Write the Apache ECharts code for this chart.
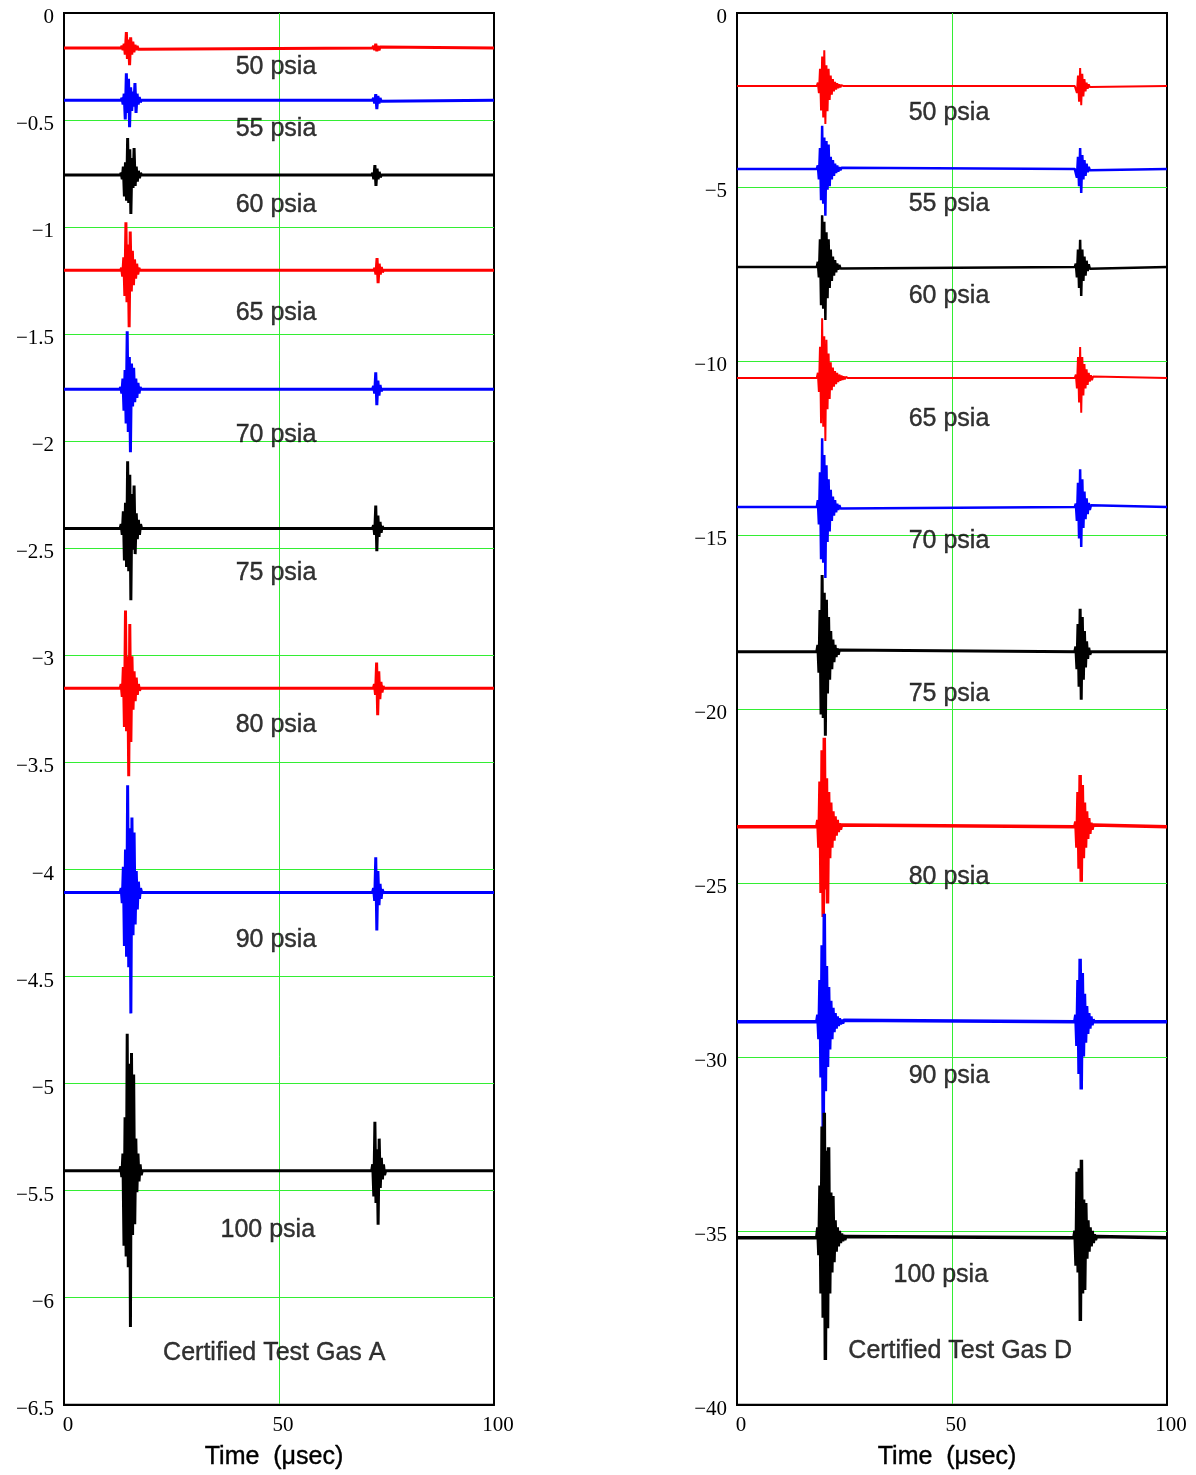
<!DOCTYPE html>
<html>
<head>
<meta charset="utf-8">
<title>Certified Test Gas A / D waveforms</title>
<script src="https://cdn.jsdelivr.net/npm/echarts@6/dist/echarts.min.js"></script>
<style>
  html, body { margin: 0; padding: 0; background: #ffffff; }
  #chart { width: 1196px; height: 1475px; }
</style>
</head>
<body>
<div id="chart"></div>
<script>
// ---- Recorded waveforms (time in µs, amplitude in volts offset per pressure) ----
const pressureLabels = ['50 psia', '55 psia', '60 psia', '65 psia', '70 psia', '75 psia', '80 psia', '90 psia', '100 psia'];
const sampleStep = 0.25; // µs between burst samples

const xTicks = [0, 50, 100];
const gasAYTicks = { min: -6.5, max: 0, step: 0.5 };
const gasDYTicks = { min: -40, max: 0, step: 5 };

// Gas A: resting level of each trace
const gasABaselines = [-0.164, -0.407, -0.757, -1.201, -1.757, -2.407, -3.154, -4.107, -5.407];
// Gas A: direct-path burst (start time, samples relative to resting level)
const gasAFirstStart = [13.5, 13.5, 13.3, 13.4, 13.2, 13.3, 13.3, 13.3, 13.2];
const gasAFirstBurst = [
  [0.01, -0.01, 0.02, -0.03, 0.075, -0.05, 0.04, -0.08, 0.05, -0.03, 0.03, -0.02, 0.015, -0.01, 0.01, -0.005],
  [0.01, -0.02, 0.03, -0.09, 0.126, -0.06, 0.10, -0.126, 0.06, -0.05, 0.04, -0.03, 0.08, -0.06, 0.03, -0.02, 0.015, -0.01],
  [0.01, -0.02, 0.04, -0.10, 0.06, -0.12, 0.173, -0.13, 0.12, -0.182, 0.08, -0.06, 0.126, -0.05, 0.04, -0.03, 0.02, -0.015, 0.01],
  [0.01, -0.03, 0.06, -0.12, 0.224, -0.15, 0.12, -0.266, 0.18, -0.10, 0.09, -0.07, 0.05, -0.04, 0.03, -0.02, 0.01],
  [0.01, -0.02, 0.05, -0.10, 0.09, -0.16, 0.271, -0.20, 0.15, -0.294, 0.12, -0.08, 0.10, -0.06, 0.05, -0.04, 0.03, -0.02, 0.01],
  [0.02, -0.03, 0.08, -0.15, 0.12, -0.18, 0.313, -0.20, 0.25, -0.336, 0.16, -0.10, 0.20, -0.12, 0.07, -0.05, 0.04, -0.03, 0.02],
  [0.02, -0.04, 0.10, -0.18, 0.364, -0.20, 0.15, -0.411, 0.30, -0.25, 0.15, -0.10, 0.08, -0.06, 0.05, -0.03, 0.02, -0.01],
  [0.02, -0.05, 0.12, -0.25, 0.20, -0.30, 0.50, -0.35, 0.30, -0.565, 0.35, -0.20, 0.28, -0.15, 0.10, -0.08, 0.05, -0.03, 0.02],
  [0.02, -0.03, 0.08, -0.35, 0.25, -0.40, 0.64, -0.45, 0.50, -0.73, 0.55, -0.30, 0.45, -0.25, 0.15, -0.10, 0.08, -0.05, 0.03, -0.02]
];
// Gas A: reflected burst
const gasASecondStart = [72.0, 72.0, 71.8, 72.3, 72.0, 72.0, 72.2, 72.0, 71.8];
const gasASecondBurst = [
  [0.01, -0.01, 0.02, -0.015, 0.01, -0.01, 0.005],
  [0.01, -0.015, 0.028, -0.042, 0.02, -0.015, 0.01, -0.005],
  [0.01, -0.02, 0.047, -0.051, 0.03, -0.02, 0.015, -0.01],
  [0.01, -0.02, 0.056, -0.061, 0.03, -0.02, 0.015, -0.01],
  [0.015, -0.02, 0.079, -0.075, 0.04, -0.03, 0.02, -0.01],
  [0.015, -0.03, 0.107, -0.107, 0.06, -0.04, 0.03, -0.02, 0.01],
  [0.02, -0.03, 0.121, -0.126, 0.08, -0.05, 0.03, -0.02, 0.01],
  [0.02, -0.04, 0.164, -0.178, 0.10, -0.06, 0.04, -0.03, 0.015],
  [0.03, -0.12, 0.229, -0.15, 0.10, -0.252, 0.15, -0.08, 0.06, -0.04, 0.03, -0.02]
];
const gasALabelX = [49.3, 49.3, 49.3, 49.3, 49.3, 49.3, 49.3, 49.3, 47.4];
const gasALabelY = [-0.255, -0.541, -0.895, -1.400, -1.970, -2.614, -3.325, -4.329, -5.685];
const gasATitle = ['Certified Test Gas A', 48.9, -6.259];

// Gas D: resting level of each trace
const gasDBaselines = [-2.10, -4.48, -7.30, -10.49, -14.20, -18.36, -23.39, -28.99, -35.20];
const gasDFirstStart = [18.8, 18.8, 18.8, 18.8, 18.8, 18.8, 18.8, 18.8, 18.8];
const gasDFirstBurst = [
  [0.1, -0.2, 0.5, -0.7, 0.85, -0.9, 1.03, -1.09, 0.6, -0.72, 0.5, -0.4, 0.3, -0.25, 0.2, -0.15, 0.12, -0.1, 0.08, -0.06, 0.05, -0.04, 0.03, -0.02],
  [0.1, -0.3, 0.6, -0.9, 1.24, -1.0, 0.9, -1.35, 0.8, -0.6, 0.7, -0.5, 0.35, -0.3, 0.25, -0.2, 0.15, -0.12, 0.1, -0.08, 0.05, -0.04, 0.03],
  [0.15, -0.3, 0.8, -1.1, 1.49, -1.2, 1.3, -1.52, 1.0, -0.9, 0.8, -0.6, 0.5, -0.4, 0.3, -0.25, 0.2, -0.15, 0.1, -0.08, 0.06, -0.04],
  [0.15, -0.4, 0.9, -1.3, 1.72, -1.4, 1.2, -1.81, 1.1, -0.9, 0.7, -0.6, 0.45, -0.35, 0.3, -0.25, 0.2, -0.18, 0.15, -0.12, 0.1, -0.08, 0.07, -0.06, 0.05, -0.04, 0.03, -0.02],
  [0.2, -0.5, 1.0, -1.5, 1.98, -1.6, 1.5, -2.04, 1.2, -1.0, 0.8, -0.7, 0.5, -0.4, 0.3, -0.25, 0.2, -0.15, 0.1, -0.08, 0.06, -0.04],
  [0.2, -0.6, 1.2, -1.8, 2.21, -1.9, 1.7, -2.41, 1.5, -1.2, 1.0, -0.8, 0.6, -0.5, 0.35, -0.3, 0.2, -0.15, 0.1, -0.08, 0.05],
  [0.2, -0.6, 1.3, -1.9, 2.2, -2.59, 2.56, -1.8, 1.4, -2.2, 1.0, -0.9, 0.7, -0.6, 0.45, -0.4, 0.3, -0.25, 0.2, -0.15, 0.1, -0.08, 0.05],
  [0.2, -0.5, 1.2, -1.6, 2.2, -3.1, 3.1, -2.0, 1.6, -1.3, 1.0, -0.8, 0.6, -0.5, 0.4, -0.3, 0.25, -0.2, 0.15, -0.12, 0.1, -0.08, 0.06, -0.05, 0.04],
  [0.3, -0.5, 1.5, -1.6, 3.2, -2.3, 3.59, -3.51, 2.5, -2.6, 2.6, -1.6, 1.3, -1.0, 1.2, -0.7, 0.5, -0.4, 0.3, -0.25, 0.2, -0.15, 0.12, -0.1, 0.08, -0.06, 0.04]
];
const gasDSecondStart = [78.8, 78.8, 78.8, 78.8, 78.8, 78.8, 78.8, 78.8, 78.6];
const gasDSecondBurst = [
  [0.05, -0.2, 0.3, -0.45, 0.52, -0.55, 0.35, -0.3, 0.2, -0.15, 0.1, -0.08, 0.05, -0.03],
  [0.05, -0.25, 0.35, -0.5, 0.6, -0.69, 0.4, -0.3, 0.25, -0.2, 0.15, -0.1, 0.06, -0.04],
  [0.1, -0.3, 0.5, -0.6, 0.78, -0.83, 0.5, -0.4, 0.3, -0.25, 0.18, -0.12, 0.08, -0.05],
  [0.1, -0.3, 0.6, -0.7, 0.89, -1.0, 0.6, -0.5, 0.4, -0.3, 0.25, -0.2, 0.15, -0.1, 0.08, -0.06, 0.04],
  [0.1, -0.4, 0.7, -0.9, 1.09, -1.15, 0.8, -0.6, 0.45, -0.35, 0.25, -0.2, 0.12, -0.08, 0.05],
  [0.15, -0.5, 0.8, -1.0, 1.24, -1.38, 1.0, -0.8, 0.6, -0.45, 0.3, -0.2, 0.12, -0.08],
  [0.15, -0.6, 1.0, -1.2, 1.49, -1.58, 1.2, -0.9, 0.7, -0.6, 0.45, -0.35, 0.25, -0.2, 0.12, -0.08, 0.05],
  [0.2, -0.7, 1.2, -1.5, 1.81, -1.95, 1.4, -1.0, 0.8, -0.6, 0.45, -0.35, 0.25, -0.2, 0.15, -0.1, 0.06],
  [0.2, -0.8, 1.9, -1.0, 2.0, -2.39, 2.24, -1.6, 1.1, -1.5, 1.0, -0.6, 0.5, -0.4, 0.3, -0.25, 0.2, -0.15, 0.1, -0.06, 0.04]
];
const gasDLabelX = [49.3, 49.3, 49.3, 49.3, 49.3, 49.3, 49.3, 49.3, 47.4];
const gasDLabelY = [-2.88, -5.50, -8.14, -11.68, -15.18, -19.58, -24.84, -30.56, -36.28];
const gasDTitle = ['Certified Test Gas D', 51.9, -38.46];

// ---- Styling ----
const traceColors = ['#ff0000', '#0000ff', '#000000', '#ff0000', '#0000ff', '#000000', '#ff0000', '#0000ff', '#000000'];
const gridGreen = '#33ee33';
const serif = '"Liberation Serif", "DejaVu Serif", serif';
const sans = '"Liberation Sans", Arial, sans-serif';

// One trace: flat resting level with the two recorded bursts spliced in
function buildTrace(base, s1, b1, s2, b2) {
  const pts = [[0, base], [s1 - sampleStep, base]];
  b1.forEach((v, j) => pts.push([s1 + j * sampleStep, base + v]));
  pts.push([s1 + b1.length * sampleStep, base]);
  pts.push([s2 - sampleStep, base]);
  b2.forEach((v, j) => pts.push([s2 + j * sampleStep, base + v]));
  pts.push([s2 + b2.length * sampleStep, base]);
  pts.push([100, base]);
  return pts;
}

const minusFmt = v => (v < 0 ? '\u2212' + String(Math.abs(v)) : String(v));

function makeAxes(idx, yt) {
  const x = {
    type: 'value', gridIndex: idx, min: xTicks[0], max: xTicks[xTicks.length - 1], interval: xTicks[1] - xTicks[0],
    name: 'Time  (\u03bcsec)', nameLocation: 'middle', nameGap: 40,
    nameTextStyle: { fontFamily: sans, fontSize: 25, color: '#000', textBorderColor: '#000', textBorderWidth: 0.4, padding: [0, 10, 0, 0] },
    axisLine: { show: true, onZero: false, lineStyle: { color: '#000', width: 2 } },
    axisTick: { show: false },
    axisLabel: {
      margin: 10, formatter: v => '{t|' + minusFmt(v) + '}',
      rich: { t: { fontFamily: serif, fontSize: 21, color: '#000', padding: [0, 0, 0, 8] } }
    },
    splitLine: { show: true, showMinLine: false, showMaxLine: false, lineStyle: { color: gridGreen, width: 1 } }
  };
  const y = {
    type: 'value', gridIndex: idx, min: yt.min, max: yt.max, interval: yt.step,
    axisLine: { show: true, onZero: false, lineStyle: { color: '#000', width: 2 } },
    axisTick: { show: false },
    axisLabel: {
      margin: 10, formatter: v => '{t|' + minusFmt(v) + '}',
      rich: { t: { fontFamily: serif, fontSize: 21, color: '#000', padding: [9, 0, 0, 0] } }
    },
    splitLine: { show: true, showMinLine: false, showMaxLine: false, lineStyle: { color: gridGreen, width: 1 } }
  };
  return { x, y };
}

const axA = makeAxes(0, gasAYTicks);
const axD = makeAxes(1, gasDYTicks);

const series = [];
function addPanel(idx, bases, s1, b1, s2, b2, lx, ly, title, width) {
  bases.forEach((base, i) => {
    series.push({
      type: 'line', xAxisIndex: idx, yAxisIndex: idx, showSymbol: false, symbol: 'none',
      animation: false, silent: true,
      data: buildTrace(base, s1[i], b1[i], s2[i], b2[i]),
      lineStyle: { color: traceColors[i], width: width[i] }, z: 3 + i
    });
  });
  const labelPts = pressureLabels.map((t, i) => [lx[i], ly[i], t]);
  labelPts.push([title[1], title[2], title[0]]);
  series.push({
    type: 'scatter', xAxisIndex: idx, yAxisIndex: idx, symbolSize: 0, animation: false, silent: true, z: 20,
    data: labelPts,
    label: {
      show: true, position: 'inside', formatter: p => p.value[2],
      fontFamily: sans, fontSize: 25, color: '#000', textBorderColor: '#000', textBorderWidth: 0.4
    }
  });
}

addPanel(0, gasABaselines, gasAFirstStart, gasAFirstBurst, gasASecondStart, gasASecondBurst,
  gasALabelX, gasALabelY, gasATitle, [3, 3, 3, 3, 3, 3, 3, 3, 3]);
addPanel(1, gasDBaselines, gasDFirstStart, gasDFirstBurst, gasDSecondStart, gasDSecondBurst,
  gasDLabelX, gasDLabelY, gasDTitle, [2, 2.5, 2.5, 2, 2.5, 3, 3.5, 3.5, 3.5]);

const chart = echarts.init(document.getElementById('chart'), null, { renderer: 'canvas' });
chart.setOption({
  backgroundColor: '#ffffff',
  animation: false,
  grid: [
    { left: 64, top: 13, width: 430, height: 1392, show: true, borderColor: '#000', borderWidth: 2, backgroundColor: 'transparent' },
    { left: 737, top: 13, width: 430, height: 1392, show: true, borderColor: '#000', borderWidth: 2, backgroundColor: 'transparent' }
  ],
  xAxis: [axA.x, axD.x],
  yAxis: [axA.y, axD.y],
  series
});
</script>
</body>
</html>
